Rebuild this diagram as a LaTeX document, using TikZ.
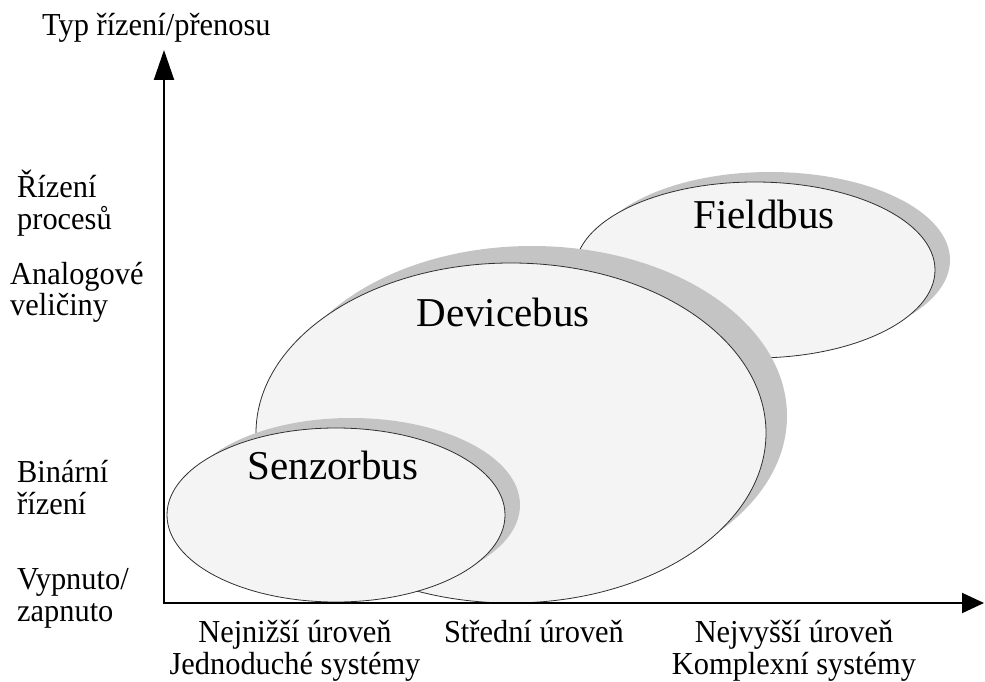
\documentclass[tikz,border=0pt]{standalone}
\usepackage{fontspec}
\usepackage{graphicx}
\setmainfont{Liberation Serif}
\usetikzlibrary{arrows.meta}

\definecolor{bubblefill}{HTML}{F4F4F4}
\definecolor{bubbleshade}{HTML}{C4C4C4}
\definecolor{bubbleline}{HTML}{303030}

% slightly condensed serif for the axis labels
\newcommand{\sqtext}[1]{\scalebox{0.95}[1]{#1}}

\tikzset{
  axisline/.style={line width=2pt, line join=miter},
  bubble/.style={fill=bubblefill, draw=bubbleline, line width=0.8pt},
  bubbleshadow/.style={fill=bubbleshade},
  lbl/.style={inner sep=0pt, font=\fontsize{32}{32}\selectfont},
  biglbl/.style={inner sep=0pt, font=\fontsize{41}{41}\selectfont},
}

\begin{document}
\begin{tikzpicture}[x=1pt, y=-1pt]
  \useasboundingbox (0,0) rectangle (985,682);

  % Fieldbus bubble with its shadow
  \fill[bubbleshadow] (770,260) ellipse [x radius=180, y radius=88];
  \draw[bubble] (755,270) ellipse [x radius=180, y radius=88];

  % Devicebus bubble with its shadow
  \fill[bubbleshadow] (532,416) ellipse [x radius=255, y radius=170];
  \draw[bubble] (511,433) ellipse [x radius=255, y radius=170];

  % Senzorbus bubble with its shadow
  \fill[bubbleshadow] (351,505) ellipse [x radius=169, y radius=87];
  \draw[bubble] (336,515) ellipse [x radius=169, y radius=87];

  % bubble titles
  \node[biglbl, anchor=base] (field) at (764,228) {Fieldbus};
  \node[biglbl, anchor=base] (device) at (503,326) {Devicebus};
  \node[biglbl, anchor=base] (senzor) at (333,479) {Senzorbus};

  % axes
  \coordinate (origin) at (164,603);
  \coordinate (ytip) at (164,50);
  \coordinate (xtip) at (984,603);
  \draw[axisline, {Triangle[length=30pt,width=20pt]}-{Triangle[length=22pt,width=20pt]}]
    (ytip) -- (origin) -- (xtip);

  % axis title
  \node[lbl, anchor=base west] (ytitle) at (42,36) {\sqtext{Typ řízení/přenosu}};

  % vertical axis categories
  \node[lbl, anchor=base west] (y1a) at (17,197) {\sqtext{Řízení}};
  \node[lbl, anchor=base west] (y1b) at (17,229) {\sqtext{procesů}};
  \node[lbl, anchor=base west] (y2a) at (10,284) {\sqtext{Analogové}};
  \node[lbl, anchor=base west] (y2b) at (10,315) {\sqtext{veličiny}};
  \node[lbl, anchor=base west] (y3a) at (17,482) {\sqtext{Binární}};
  \node[lbl, anchor=base west] (y3b) at (17,514) {\sqtext{řízení}};
  \node[lbl, anchor=base west] (y4a) at (17,589) {\sqtext{Vypnuto/}};
  \node[lbl, anchor=base west] (y4b) at (17,621) {\sqtext{zapnuto}};

  % horizontal axis categories
  \node[lbl, anchor=base] (x1a) at (295,642) {\sqtext{Nejnižší úroveň}};
  \node[lbl, anchor=base] (x1b) at (295,674) {\sqtext{Jednoduché systémy}};
  \node[lbl, anchor=base] (x2a) at (534,642) {\sqtext{Střední úroveň}};
  \node[lbl, anchor=base] (x3a) at (794,642) {\sqtext{Nejvyšší úroveň}};
  \node[lbl, anchor=base] (x3b) at (794,674) {\sqtext{Komplexní systémy}};
\end{tikzpicture}
\end{document}
